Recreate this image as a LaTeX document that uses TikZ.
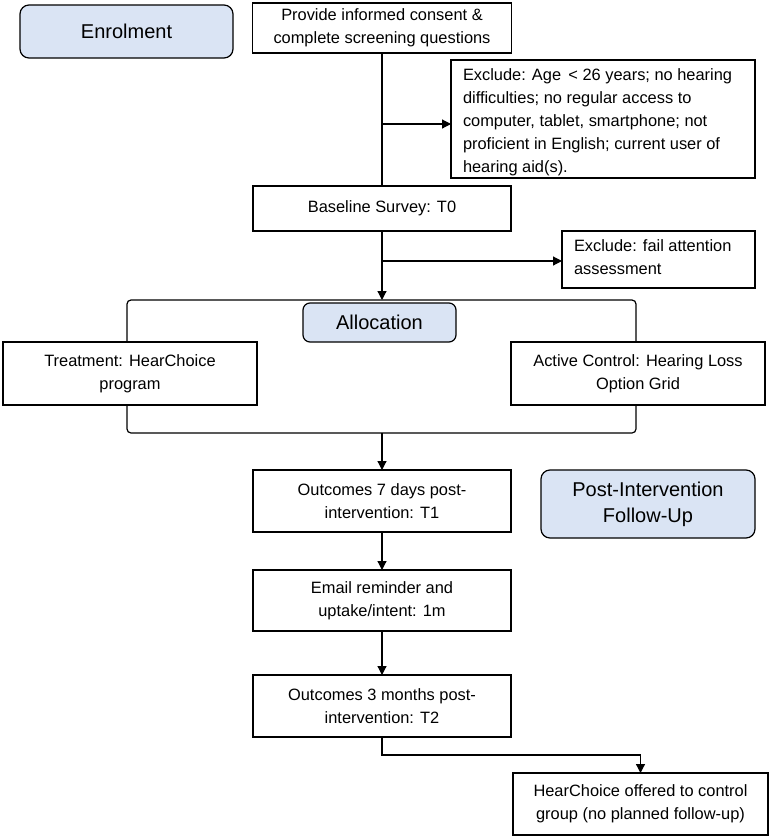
\documentclass[tikz,border=0pt]{standalone}
\usepackage{fontspec}
\setmainfont{Liberation Sans}
\usetikzlibrary{arrows.meta,calc}
\definecolor{phasefill}{RGB}{218,228,244}
\begin{document}
\begin{tikzpicture}[x=1pt,y=-1pt,
  every node/.style={inner sep=0pt, outer sep=0pt},
  stepbox/.style={draw, line width=1.2pt, fill=white, align=center,
    font=\fontsize{16.4}{23}\selectfont},
  phase/.style={draw, line width=1.2pt, fill=phasefill, rounded corners=9pt,
    align=center, font=\fontsize{20}{26}\selectfont},
  conn/.style={line width=1.2pt},
  arr/.style={conn, -{Triangle[length=9pt,width=9pt]}}]
\useasboundingbox (0,0) rectangle (771,839);

% phase labels
\node[phase, minimum width=213, minimum height=53] (enrol) at (126.5,31.5) {Enrolment};
\node[phase, minimum width=153, minimum height=39, rounded corners=7pt] (alloc) at (379.5,322.5) {Allocation};
\node[phase, minimum width=214, minimum height=68] (post) at (648,504) {Post-Intervention\\Follow-Up};

% main column
\node[stepbox, minimum width=259, minimum height=50] (consent) at (382,28)
  {Provide informed consent \&\\complete screening questions};
\node[stepbox, minimum width=258, minimum height=45] (base) at (382,208.5)
  {Baseline Survey: T0};
\node[stepbox, minimum width=258, minimum height=62] (t1) at (382,501)
  {Outcomes 7 days post-\\intervention: T1};
\node[stepbox, minimum width=258, minimum height=61] (email) at (382,600.5)
  {Email reminder and\\uptake/intent: 1m};
\node[stepbox, minimum width=258, minimum height=62] (t2) at (382,706)
  {Outcomes 3 months post-\\intervention: T2};

% exclusions
\node[draw, line width=1.2pt, minimum width=304, minimum height=118] (excl1) at (603,119) {};
\node[anchor=north west, align=left, font=\fontsize{16.4}{23}\selectfont] (excl1txt)
  at ([xshift=12pt,yshift=-9pt]excl1.north west)
  {Exclude: Age \,< 26 years; no hearing\\difficulties; no regular access to\\computer, tablet, smartphone; not\\proficient in English; current user of\\hearing aid(s).};
\node[draw, line width=1.2pt, minimum width=193, minimum height=57] (excl2) at (658.5,259.5) {};
\node[anchor=north west, align=left, font=\fontsize{16.4}{23}\selectfont] (excl2txt)
  at ([xshift=12pt,yshift=-9pt]excl2.north west)
  {Exclude: fail attention\\assessment};

% arms
\node[stepbox, minimum width=254, minimum height=63] (treat) at (130,373.5)
  {Treatment: HearChoice\\program};
\node[stepbox, minimum width=254, minimum height=63] (active) at (638,373.5)
  {Active Control: Hearing Loss\\Option Grid};

% final offer
\node[stepbox, minimum width=255, minimum height=62] (offer) at (640.5,804)
  {HearChoice offered to control\\group (no planned follow-up)};

% junctions
\coordinate (j1) at (382,124);
\coordinate (j2) at (382,261);
\coordinate (brTL) at (127,300);
\coordinate (brTR) at (636,300);
\coordinate (brBL) at (127,433);
\coordinate (brBR) at (636,433);
\coordinate (brTop) at (382,300);
\coordinate (brBot) at (382,433);
\coordinate (j3) at (382,755);

% connectors
\draw[conn] (consent.south) -- (base.north);
\draw[arr] (j1) -- (j1 -| excl1.west);
\draw[arr] (base.south) -- (brTop);
\draw[arr] (j2) -- (j2 -| excl2.west);
\draw[conn, rounded corners=4pt] (treat.north -| brTL) -- (brTL) -- (brTR) -- (active.north -| brTR);
\draw[conn, rounded corners=4pt] (treat.south -| brBL) -- (brBL) -- (brBR) -- (active.south -| brBR);
\draw[arr] (brBot) -- (t1.north);
\draw[arr] (t1.south) -- (email.north);
\draw[arr] (email.south) -- (t2.north);
\draw[arr] (t2.south) -- (j3) -- (j3 -| offer.north) -- (offer.north);
\end{tikzpicture}
\end{document}
